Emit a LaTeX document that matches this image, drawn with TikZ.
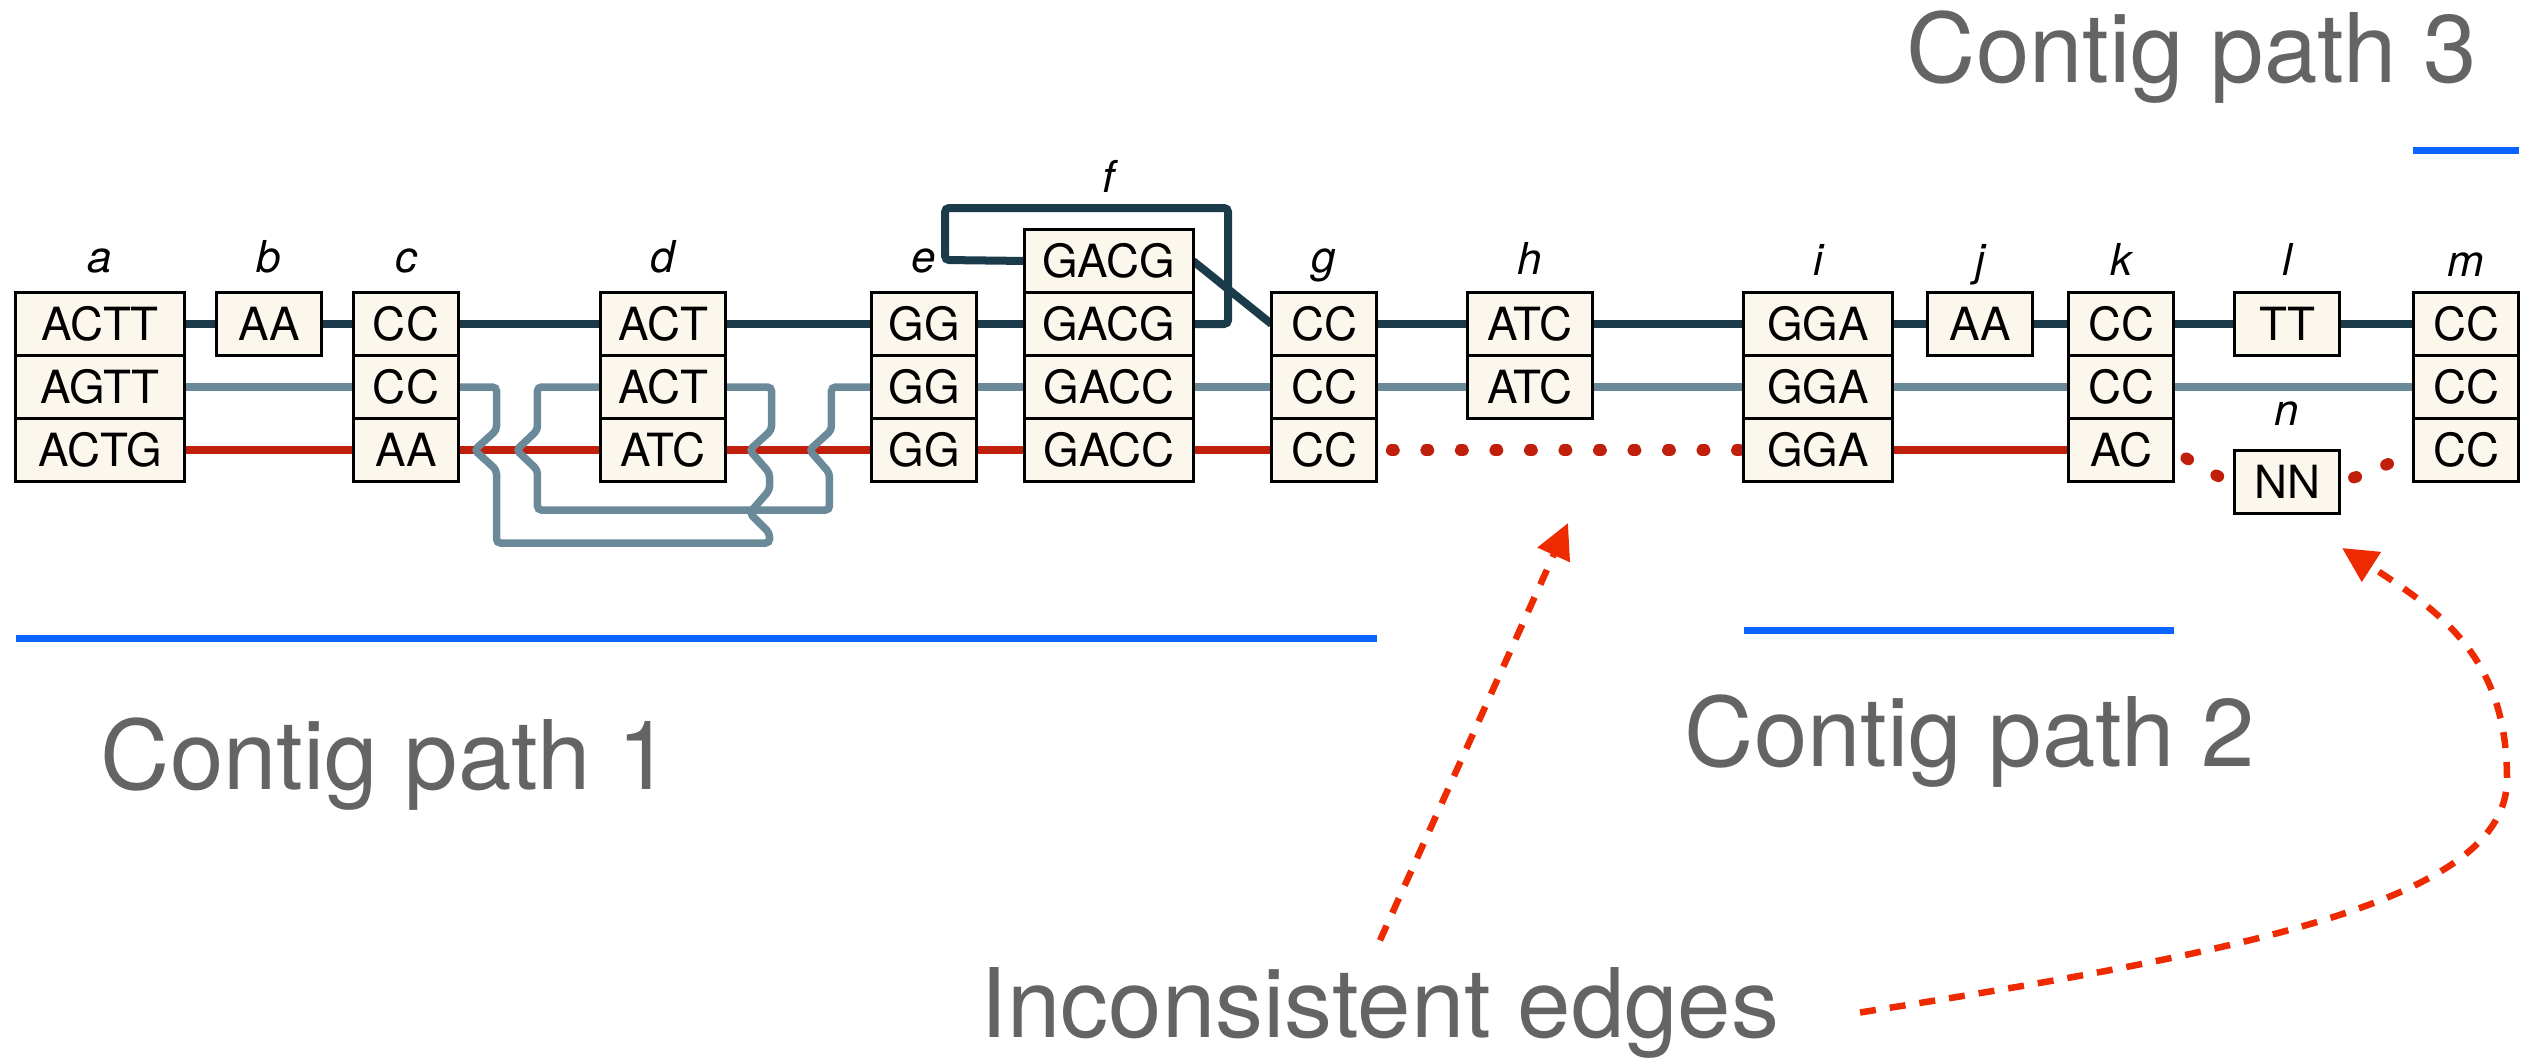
\documentclass[tikz,border=0pt]{standalone}
\usepackage{fontspec}
\setmainfont{TeX Gyre Heros}
\usetikzlibrary{positioning,arrows.meta,backgrounds}

\definecolor{pathdark}{HTML}{1B3A4A}
\definecolor{pathgray}{HTML}{6A8A9A}
\definecolor{pathred}{HTML}{C0200B}
\definecolor{boxfill}{HTML}{FBF7EC}
\definecolor{contigblue}{HTML}{0A64FF}
\definecolor{textgray}{HTML}{646464}
\definecolor{arrowred}{HTML}{EE2A00}

\begin{document}
\begin{tikzpicture}[x=0.01cm, y=-0.01cm, node distance=0pt]
    % Define styles
    \tikzstyle{seqbox} = [rectangle, draw=black, line width=0.03cm, fill=boxfill, minimum width=1.05cm, minimum height=0.63cm, inner sep=0pt, outer sep=0pt, font=\fontsize{13}{15}\selectfont]
    \tikzstyle{seqmid} = [seqbox, minimum width=1.25cm]
    \tikzstyle{seqwide} = [seqbox, minimum width=1.68cm]
    \tikzstyle{nodelabel} = [anchor=base, inner sep=0pt, font=\fontsize{12.5}{15}\selectfont\itshape]
    \tikzstyle{bigtext} = [anchor=base west, inner sep=0pt, text=textgray, font=\fontsize{27.3}{32}\selectfont]
    \tikzstyle{hapdark} = [line width=0.08cm, pathdark]
    \tikzstyle{hapgray} = [line width=0.075cm, pathgray, rounded corners=0.04cm]
    \tikzstyle{hapred} = [line width=0.08cm, pathred]
    \tikzstyle{hapdots} = [pathred, line width=0.115cm, line cap=round, dash pattern=on 0.025cm off 0.32cm, dash phase=-0.15cm]
    \tikzstyle{contig} = [line width=0.07cm, contigblue]
    \tikzstyle{arrow} = [arrowred, line width=0.065cm, dash pattern=on 0.16cm off 0.14cm, -{Triangle[length=0.35cm, width=0.34cm]}]

    \useasboundingbox (0,0) rectangle (2539,1060);

    % Nodes
    \node [seqwide] (a1) at (100,324) {ACTT};
    \node [seqwide, below=of a1] (a2) {AGTT};
    \node [seqwide, below=of a2] (a3) {ACTG};
    \node [seqbox, minimum width=1.04cm] (b1) at (269,324) {AA};
    \node [seqbox] (c1) at (406,324) {CC};
    \node [seqbox, below=of c1] (c2) {CC};
    \node [seqbox, below=of c2] (c3) {AA};
    \node [seqmid] (d1) at (663,324) {ACT};
    \node [seqmid, below=of d1] (d2) {ACT};
    \node [seqmid, below=of d2] (d3) {ATC};
    \node [seqbox] (e1) at (924,324) {GG};
    \node [seqbox, below=of e1] (e2) {GG};
    \node [seqbox, below=of e2] (e3) {GG};
    \node [seqwide] (f1) at (1109,324) {GACG};
    \node [seqwide, above=of f1] (f0) {GACG};
    \node [seqwide, below=of f1] (f2) {GACC};
    \node [seqwide, below=of f2] (f3) {GACC};
    \node [seqbox] (g1) at (1324,324) {CC};
    \node [seqbox, below=of g1] (g2) {CC};
    \node [seqbox, below=of g2] (g3) {CC};
    \node [seqmid] (h1) at (1530,324) {ATC};
    \node [seqmid, below=of h1] (h2) {ATC};
    \node [seqbox, minimum width=1.48cm] (i1) at (1818,324) {GGA};
    \node [seqbox, minimum width=1.48cm, below=of i1] (i2) {GGA};
    \node [seqbox, minimum width=1.48cm, below=of i2] (i3) {GGA};
    \node [seqbox] (j1) at (1980,324) {AA};
    \node [seqbox] (k1) at (2121,324) {CC};
    \node [seqbox, below=of k1] (k2) {CC};
    \node [seqbox, below=of k2] (k3) {AC};
    \node [seqbox] (l1) at (2287,324) {TT};
    \node [seqbox] (m1) at (2466,324) {CC};
    \node [seqbox, below=of m1] (m2) {CC};
    \node [seqbox, below=of m2] (m3) {CC};
    \node [seqbox] (n) at (2287,482) {NN};

    % Labels
    \node [nodelabel] (la) at ([yshift=0.2cm]a1.north) {a};
    \node [nodelabel] (lb) at ([yshift=0.2cm]b1.north) {b};
    \node [nodelabel] (lc) at ([yshift=0.2cm]c1.north) {c};
    \node [nodelabel] (ld) at ([yshift=0.2cm]d1.north) {d};
    \node [nodelabel] (le) at ([yshift=0.2cm]e1.north) {e};
    \node [nodelabel] (lf) at ([yshift=0.37cm]f0.north) {f};
    \node [nodelabel] (lg) at ([yshift=0.2cm]g1.north) {g};
    \node [nodelabel] (lh) at ([yshift=0.18cm]h1.north) {h};
    \node [nodelabel] (li) at ([yshift=0.17cm]i1.north) {i};
    \node [nodelabel] (lj) at ([yshift=0.17cm]j1.north) {j};
    \node [nodelabel] (lk) at ([yshift=0.17cm]k1.north) {k};
    \node [nodelabel] (ll) at ([yshift=0.17cm]l1.north) {l};
    \node [nodelabel] (lm) at ([yshift=0.16cm]m1.north) {m};
    \node [nodelabel] (ln) at ([yshift=0.25cm]n.north) {n};

    % Contig paths
    \coordinate (cp1) at (0,638);
    \coordinate (cp2) at (0,630);
    \coordinate (cp3) at (0,150);
    \draw [contig] (a3.west |- cp1) -- (g3.east |- cp1);
    \draw [contig] (i3.west |- cp2) -- (k3.east |- cp2);
    \draw [contig] (m1.west |- cp3) -- (m1.east |- cp3);
    \node [bigtext] (cpath1) at (100,789) {Contig path 1};
    \node [bigtext] (cpath2) at (1684,766) {Contig path 2};
    \node [bigtext] (cpath3) at (1906,82) {Contig path 3};
    \node [bigtext] (incons) at (980,1037) {Inconsistent edges};

    % Haplotype paths
    \begin{scope}[on background layer]
    \draw [hapred] (a3) -- (c3);
    \draw [hapred] (c3) -- (d3);
    \draw [hapred] (d3) -- (e3);
    \draw [hapred] (e3) -- (f3);
    \draw [hapred] (f3) -- (g3);
    \draw [hapdots] (g3.east) -- (i3.west);
    \draw [hapred] (i3) -- (k3);
    \draw [hapdots] (k3.east) .. controls +(22,14) and +(-22,-6) .. (n.west);
    \draw [hapdots] (n.east) .. controls +(22,-6) and +(-22,14) .. (m3.west);

    \draw [hapgray] (a2) -- (c2);
    \draw [hapgray] (d2.west) -- ++(-63,0) -- ++(0,43) -- ++(-21,20) -- ++(21,20) -- ++(0,40) -- ++(292,0) -- ++(0,-37) -- ++(-20,-23) -- ++(22,-20) -- ++(0,-43) -- (e2.west);
    \draw [hapgray] (c2.east) -- ++(38,0) -- ++(0,43) -- ++(-22,20) -- ++(22,20) -- ++(0,73) -- ++(273,0) -- ++(0,-10) -- ++(-20,-20) -- ++(20,-23) -- ++(0,-17) -- ++(-20,-23) -- ++(22,-20) -- ++(0,-43) -- (d2.east);
    \draw [hapgray] (e2) -- (f2);
    \draw [hapgray] (f2) -- (g2);
    \draw [hapgray] (g2) -- (h2);
    \draw [hapgray] (h2) -- (i2);
    \draw [hapgray] (i2) -- (k2);
    \draw [hapgray] (k2) -- (m2);

    \draw [hapdark] (a1) -- (b1);
    \draw [hapdark] (b1) -- (c1);
    \draw [hapdark] (c1) -- (d1);
    \draw [hapdark] (d1) -- (e1);
    \draw [hapdark] (e1) -- (f1);
    \draw [hapdark, rounded corners=0.04cm] (f1.east) -- ++(35,0) -- ++(0,-116) -- ++(-283,0) -- ++(0,52) -- (f0.west);
    \draw [hapdark] (f0.east) -- (g1.west);
    \draw [hapdark] (g1) -- (h1);
    \draw [hapdark] (h1) -- (i1);
    \draw [hapdark] (i1) -- (j1);
    \draw [hapdark] (j1) -- (k1);
    \draw [hapdark] (k1) -- (l1);
    \draw [hapdark] (l1) -- (m1);
    \end{scope}

    % Arrows
    \coordinate (gaptip) at (1568,523);
    \coordinate (bend) at (2507,779);
    \coordinate (nntip) at (2342,548);
    \draw [arrow] ([yshift=0.26cm]incons.north) -- (gaptip);
    \draw [arrow] ([xshift=0.8cm]incons.east) .. controls +(395,-62) and +(0,120) .. (bend) .. controls +(0,-120) and +(101,65) .. (nntip);
\end{tikzpicture}
\end{document}
